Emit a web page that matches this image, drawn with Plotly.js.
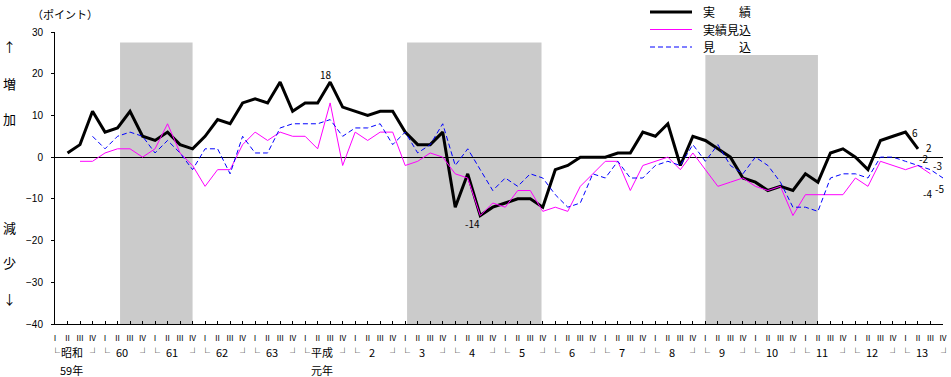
<!DOCTYPE html>
<html>
<head>
<meta charset="utf-8">
<script src="https://cdn.plot.ly/plotly-3.0.1.min.js"></script>
<style>html,body{margin:0;padding:0;background:#fff;}#chart{width:951px;height:377px;}</style>
</head>
<body>
<div id="chart"></div>
<script>
// Quarter labels (昭和59年Ⅰ … 平成13年Ⅳ), 72 quarters
const quarterNames = ["Ⅰ","Ⅱ","Ⅲ","Ⅳ"];
const yearLabels = ["昭和","60","61","62","63","平成","2","3","4","5","6","7","8","9","10","11","12","13"];
const yearSubLabels = {0:"59年", 5:"元年"};
const seriesNames = ["実　　績","実績見込","見　　込"];

// 実績
const actual = [null,1,3,11,6,7,11,5,4,6,3,2,5,9,8,13,14,13,18,11,13,13,18,12,11,10,11,11,6,3,3,6,-12,-4,-14,-12,-11,-10,-10,-12,-3,-2,0,0,0,1,1,6,5,8,-2,5,4,2,0,-5,-6,-8,-7,-8,-4,-6,1,2,0,-3,4,5,6,2,null,null];
// 実績見込
const estimate = [null,null,-1,-1,1,2,2,0,2,8,1,-2,-7,-3,-3,3,6,4,6,5,5,2,13,-2,6,4,6,6,-2,-1,1,0,-4,-5,-14,-11,-12,-8,-8,-13,-12,-13,-7,-4,-1,-1,-8,-2,-1,0,-3,1,-3,-7,-6,-5,-7,-8,-7,-14,-9,-9,-9,-9,-5,-7,-1,-2,-3,-2,-4,null];
// 見込
const forecast = [null,null,null,5,2,5,6,5,1,4,1,-3,2,2,-4,5,1,1,7,8,8,8,9,5,7,7,8,3,6,1,3,8,-2,2,-3,-8,-5,-7,-4,-5,-9,-12,-11,-4,-5,-1,-5,-5,-2,-1,-2,3,-1,3,-2,-4,0,-2,-6,-12,-12,-13,-5,-4,-4,-5,0,0,-1,-2,-3,-5];

// 景気後退期 (quarter-index spans, top value)
const recessions = [[5.2,11,27.5],[28.15,38.9,27.5],[52,61,24.5]];

// value labels: [series, index, text, xshift, yshift]
const valueLabels = [
  ["a",22,"18",-4,8],
  ["a",34,"-14",-8,-8],
  ["a",68,"6",10,0],
  ["a",69,"2",11,1],
  ["e",69,"-2",6,7],
  ["f",70,"-3",7,4],
  ["e",70,"-4",-3,-20],
  ["f",71,"-5",-4,-10]
];

const N = 72;
const xs = Array.from({length:N},(_,i)=>i);
const tickText = xs.map(i=>quarterNames[i%4]);
const FONT = "'Noto Sans CJK JP', 'Noto Sans', sans-serif";
const styles = [
  {color:"#000000", width:3, dash:"solid"},
  {color:"#FF00FF", width:1, dash:"solid"},
  {color:"#0000FF", width:1, dash:"5px,3px"}
];
const data = [actual, estimate, forecast];

const traces = data.map((d,k)=>({x:xs, y:d, name:seriesNames[k], type:"scatter", mode:"lines", line:styles[k], showlegend:false, hoverinfo:"skip"}));

// pixel -> paper helpers (plot area: x 55..943, y 32..324)
const px = p => (p-55)/888;
const py = p => (324-p)/292;

const shapes = recessions.map(r=>({type:"rect", xref:"x", yref:"y", x0:r[0], x1:r[1], y0:-40, y1:r[2], fillcolor:"#cbcbcb", line:{width:0}, layer:"below"}));

const annotations = [];
const series = {a:actual, e:estimate, f:forecast};
valueLabels.forEach(v=>{
  annotations.push({x:v[1], y:series[v[0]][v[1]], xref:"x", yref:"y", text:v[2], showarrow:false, xshift:v[3], yshift:v[4], font:{family:FONT, size:10, color:"#000"}});
});
yearLabels.forEach((t,k)=>{
  const common = {y:0, xref:"x", yref:"paper", showarrow:false, xanchor:"center", yanchor:"middle", yshift:-28, font:{family:FONT, size:11, color:"#000"}};
  annotations.push(Object.assign({}, common, {x:4*k, text:"└", xshift:0, font:{family:FONT, size:9, color:"#000"}}));
  annotations.push(Object.assign({}, common, {x:4*k+3, text:"┘", xshift:2, font:{family:FONT, size:9, color:"#000"}}));
  annotations.push(Object.assign({}, common, {x:4*k+1.5, text:t, xshift:-2}));
});
Object.keys(yearSubLabels).forEach(k=>{
  annotations.push({x:4*k+1.5, y:0, xref:"x", yref:"paper", text:yearSubLabels[k], showarrow:false, xanchor:"center", yanchor:"middle", xshift:-2, yshift:-46, font:{family:FONT, size:11, color:"#000"}});
});
// axis captions
annotations.push({x:px(65), y:py(14), xref:"paper", yref:"paper", xanchor:"center", yanchor:"middle", text:"（ポイント）", showarrow:false, font:{family:FONT, size:11, color:"#000"}});
const side = [["↑",47],["増",83],["加",119],["減",227],["少",262],["↓",298]];
side.forEach(s=>{
  annotations.push({x:px(9), y:py(s[1]), xref:"paper", yref:"paper", xanchor:"center", yanchor:"middle", text:s[0], showarrow:false, font:{family:FONT, size:13, color:"#000"}});
});
// legend (drawn manually)
const legendRows = [12, 29.5, 47];
seriesNames.forEach((n,k)=>{
  shapes.push({type:"line", xref:"paper", yref:"paper", x0:px(650), x1:px(692), y0:py(legendRows[k]), y1:py(legendRows[k]), line:styles[k]});
  annotations.push({x:px(701), y:py(legendRows[k]), xref:"paper", yref:"paper", xanchor:"left", yanchor:"middle", text:n, showarrow:false, font:{family:FONT, size:12, color:"#000"}});
});

const layout = {
  width:951, height:377,
  margin:{l:55, r:8, t:32, b:53, pad:0},
  paper_bgcolor:"#ffffff", plot_bgcolor:"#ffffff",
  font:{family:FONT, size:11, color:"#000"},
  showlegend:false,
  xaxis:{range:[0,71], showgrid:false, zeroline:false, showline:true, linecolor:"#000", linewidth:1, ticks:"inside", ticklen:3, tickcolor:"#000", tickvals:xs, ticktext:tickText, tickangle:0, tickfont:{family:FONT, size:8, color:"#000"}, ticklabelstandoff:6, fixedrange:true},
  yaxis:{range:[-40,30], dtick:10, tick0:0, showgrid:false, zeroline:true, zerolinecolor:"#000", zerolinewidth:1, showline:true, linecolor:"#000", linewidth:1, ticks:"outside", ticklen:3, tickcolor:"#000", tickfont:{family:"'Liberation Sans', sans-serif", size:10, color:"#000"}, ticklabelstandoff:6, fixedrange:true},
  shapes:shapes,
  annotations:annotations
};

Plotly.newPlot("chart", traces, layout, {displayModeBar:false, staticPlot:true});
</script>
</body>
</html>
